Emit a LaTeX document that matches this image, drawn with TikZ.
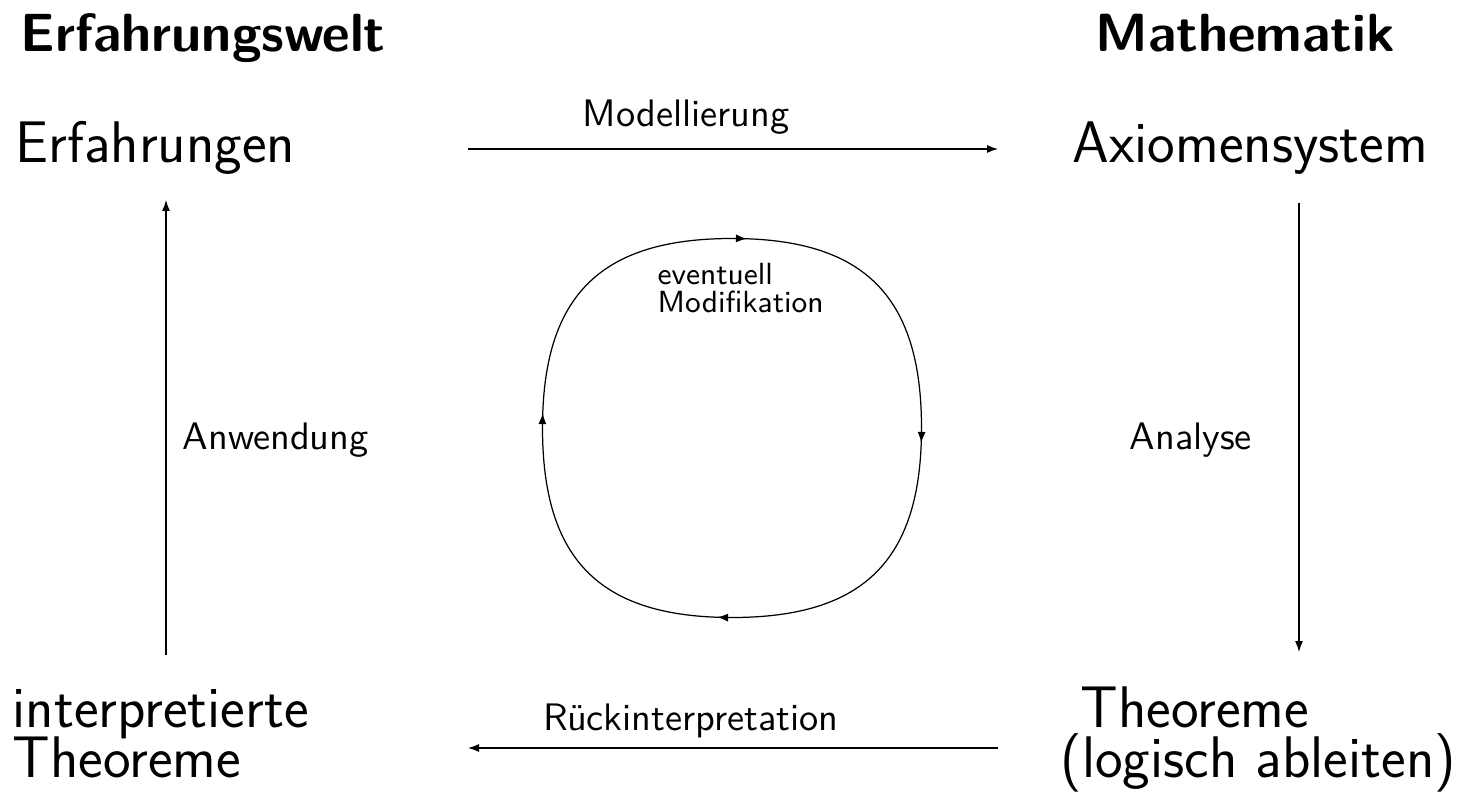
\documentclass[tikz,border=0pt]{standalone}
\usepackage{tikz}
\usetikzlibrary{arrows.meta, positioning, calc, decorations.markings}
\definecolor{myink}{RGB}{0,0,0}
\newcommand{\tightlines}{\lineskiplimit -20pt\relax}
\tikzset{
  heading/.style={font=\sffamily\bfseries\fontsize{15.3pt}{17pt}\selectfont,
    inner sep=0pt, color=myink},
  bigtext/.style={font=\sffamily\fontsize{16.7pt}{14pt}\selectfont\tightlines,
    inner sep=0pt, align=left, color=myink},
  arrowlabel/.style={font=\sffamily\fontsize{10.9pt}{12pt}\selectfont,
    inner sep=0pt, color=myink},
  smalllabel/.style={font=\sffamily\fontsize{8.7pt}{8pt}\selectfont,
    inner sep=0pt, align=left, color=myink},
  arrow/.style={-{Latex[length=1.1mm, width=0.8mm]}, line width=0.35pt, color=myink},
  loop/.style={line width=0.35pt, color=myink, postaction={decorate},
    decoration={markings,
      mark=at position 0.012 with {\arrow{Latex[length=1.1mm, width=0.8mm]}},
      mark=at position 0.262 with {\arrow{Latex[length=1.1mm, width=0.8mm]}},
      mark=at position 0.512 with {\arrow{Latex[length=1.1mm, width=0.8mm]}},
      mark=at position 0.762 with {\arrow{Latex[length=1.1mm, width=0.8mm]}}}}
}
\begin{document}
\begin{tikzpicture}
  \useasboundingbox (0,0) rectangle (14.72,7.99);

  % Column headings
  \node[heading, anchor=base west] (welt) at (0.20,7.47) {Erfahrungswelt};
  \node[heading, anchor=base west] (mathe) at (10.95,7.47) {Mathematik};

  % Corners
  \node[bigtext, anchor=base west] (erf) at (0.15,6.36) {Erfahrungen};
  \node[bigtext, anchor=base west] (axiom) at (10.72,6.36) {Axiomensystem};
  \node[bigtext, anchor=base west] (interp) at (0.12,0.22) {interpretierte\\Theoreme};
  \node[bigtext, anchor=base west] (theo) at (10.60,0.22) {\hspace*{0.2cm}Theoreme\\(logisch ableiten)};

  % Arrow ends
  \coordinate (modA) at (4.68,6.50);
  \coordinate (modB) at (9.98,6.50);
  \coordinate (anaA) at (12.99,5.96);
  \coordinate (anaB) at (12.99,1.47);
  \coordinate (rueA) at (9.98,0.51);
  \coordinate (rueB) at (4.68,0.51);
  \coordinate (anwA) at (1.66,1.44);
  \coordinate (anwB) at (1.66,5.99);

  % Outer arrows
  \draw[arrow] (modA) -- (modB);
  \draw[arrow] (anaA) -- (anaB);
  \draw[arrow] (rueA) -- (rueB);
  \draw[arrow] (anwA) -- (anwB);

  % Arrow labels
  \node[arrowlabel, anchor=base] (model) at (6.86,6.72) {Modellierung};
  \node[arrowlabel, anchor=west] (analyse) at (11.29,3.59) {Analyse};
  \node[arrowlabel, anchor=base] (rueck) at (6.91,0.69) {R\"uckinterpretation};
  \node[arrowlabel, anchor=west] (anwend) at (1.82,3.59) {Anwendung};

  % Modification loop
  \coordinate (cl) at (5.425,3.71);
  \coordinate (ct) at (7.32,5.605);
  \coordinate (cr) at (9.215,3.71);
  \coordinate (cb) at (7.32,1.815);
  \draw[loop] (cl) .. controls +(0,1.32) and +(-1.32,0) .. (ct)
    .. controls +(1.32,0) and +(0,1.32) .. (cr)
    .. controls +(0,-1.32) and +(1.32,0) .. (cb)
    .. controls +(-1.32,0) and +(0,-1.32) .. (cl);
  \node[smalllabel, anchor=base west] (modif) at (6.57,4.86) {eventuell\\Modifikation};
\end{tikzpicture}
\end{document}
